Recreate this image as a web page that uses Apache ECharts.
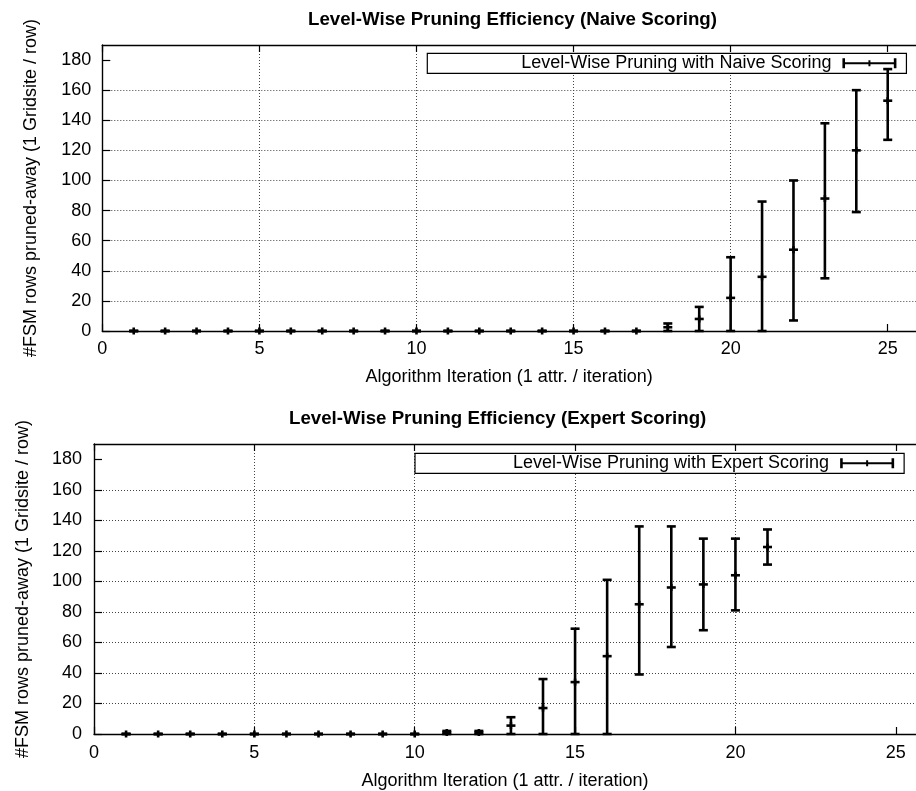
<!DOCTYPE html>
<html>
<head>
<meta charset="utf-8">
<script src="https://cdn.jsdelivr.net/npm/echarts@6/dist/echarts.min.js"></script>
<style>
html,body{margin:0;padding:0;background:#fff;}
#chart{width:916px;height:791px;}
</style>
</head>
<body>
<div id="chart"></div>
<script>
// ---- data ----
const naiveIter = [1,2,3,4,5,6,7,8,9,10,11,12,13,14,15,16,17,18,19,20,21,22,23,24,25];
const naiveMean = [0,0,0,0,0,0,0,0,0,0,0,0,0,0,0,0,0,2.5,8,22,36,54,88,120,153];
const naiveLow  = [0,0,0,0,0,0,0,0,0,0,0,0,0,0,0,0,0,0,0,0,0,7,35,79,127];
const naiveHigh = [0,0,0,0,0,0,0,0,0,0,0,0,0,0,0,0,0,5,16,49,86,100,138,160,174];

const expertIter = [1,2,3,4,5,6,7,8,9,10,11,12,13,14,15,16,17,18,19,20,21];
const expertMean = [0,0,0,0,0,0,0,0,0,0,1,1,5.5,17,34,51,85,96,98,104,122.5];
const expertLow  = [0,0,0,0,0,0,0,0,0,0,0,0,0,0,0,0,39,57,68,81,111];
const expertHigh = [0,0,0,0,0,0,0,0,0,0,2,2,11,36,69,101,136,136,128,128,134];

const xTicks = [0,5,10,15,20,25];
const yTicks = [0,20,40,60,80,100,120,140,160,180];

const titles = ['Level-Wise Pruning Efficiency (Naive Scoring)', 'Level-Wise Pruning Efficiency (Expert Scoring)'];
const seriesNames = ['Level-Wise Pruning with Naive Scoring', 'Level-Wise Pruning with Expert Scoring'];
const xName = 'Algorithm Iteration (1 attr. / iteration)';
const yName = '#FSM rows pruned-away (1 Gridsite / row)';

// ---- build ----
const FONT = 'Liberation Sans';
function rows(it, m, lo, hi){ return it.map((x,i)=>[x, m[i], lo[i], hi[i]]); }

function renderItem(params, api){
  const x = api.value(0), m = api.value(1), lo = api.value(2), hi = api.value(3);
  const pm = api.coord([x, m]), pl = api.coord([x, lo]), ph = api.coord([x, hi]);
  const cw = 4.5;
  const st = {stroke:'#000', lineWidth:2.6, fill:null};
  const seg = (x1,y1,x2,y2)=>({type:'line', shape:{x1,y1,x2,y2}, style:st});
  return {type:'group', children:[
    seg(pl[0], pl[1], ph[0], ph[1]),
    seg(pl[0]-cw, pl[1], pl[0]+cw, pl[1]),
    seg(ph[0]-cw, ph[1], ph[0]+cw, ph[1]),
    seg(pm[0]-cw, pm[1], pm[0]+cw, pm[1]),
    seg(pm[0], pm[1]-3.5, pm[0], pm[1]+3.5)
  ]};
}

const grids = [
  {left:102.3, top:45, right:0, bottom:460},
  {left:94, top:444, right:0, bottom:56.3}
];
const xMax = [25.9, 25.63];

const axisLbl = {color:'#000', fontFamily:FONT, fontSize:18};
const frameLine = {show:true, onZero:false, lineStyle:{color:'#000', width:1.4}};
const gridLine = {show:true, showMaxLine:false, lineStyle:{color:'#444', width:1, type:[1,2]}};
function xAxisMain(gi, margin, gap){
  return {type:'value', gridIndex:gi, min:0, max:xMax[gi], interval:5, position:'bottom',
    name:xName, nameLocation:'middle', nameGap:gap,
    nameTextStyle:{color:'#000', fontFamily:FONT, fontSize:18},
    axisLine:frameLine,
    axisTick:{show:true, inside:true, length:7, customValues:xTicks, lineStyle:{color:'#000', width:1.2}},
    axisLabel:Object.assign({margin:margin, customValues:xTicks, formatter:v=> String(v)}, axisLbl),
    splitLine:gridLine
  };
}
function xAxisTop(gi){
  return {type:'value', gridIndex:gi, min:0, max:xMax[gi], interval:5, position:'top',
    axisLine:frameLine,
    axisTick:{show:true, inside:true, length:7, customValues:xTicks, lineStyle:{color:'#000', width:1.2}},
    axisLabel:{show:false}, splitLine:{show:false}};
}
function yAxisMain(gi, margin, gap){
  return {type:'value', gridIndex:gi, min:0, max:190, interval:20,
    name:yName, nameLocation:'middle', nameGap:gap, nameRotate:90,
    nameTextStyle:{color:'#000', fontFamily:FONT, fontSize:18},
    axisLine:frameLine,
    axisTick:{show:true, inside:true, length:8, customValues:yTicks, lineStyle:{color:'#000', width:1.2}},
    axisLabel:Object.assign({margin:margin, customValues:yTicks, formatter:v=> String(v)}, axisLbl),
    splitLine:gridLine
  };
}

const errIcon = 'path://M0,4L54,4L54,6L0,6Z M0,0L2.6,0L2.6,10L0,10Z M51.4,0L54,0L54,10L51.4,10Z M26,2L28,2L28,8L26,8Z';

const option = {
  animation:false,
  backgroundColor:'#fff',
  title:[
    {text:titles[0], left:308, top:10, padding:0, textStyle:{color:'#000', fontFamily:FONT, fontSize:18.7, fontWeight:'bold'}},
    {text:titles[1], left:289, top:409, padding:0, textStyle:{color:'#000', fontFamily:FONT, fontSize:18.7, fontWeight:'bold'}}
  ],
  legend:[
    {data:[{name:seriesNames[0], icon:errIcon}], left:427.3, top:53.3, orient:'horizontal', align:'right',
     itemWidth:56, itemHeight:10, padding:[1,10,1,94], borderColor:'#000', borderWidth:1.2, backgroundColor:'#fff',
     textStyle:{color:'#000', fontFamily:FONT, fontSize:18, lineHeight:17, padding:[0,5,0,0]}},
    {data:[{name:seriesNames[1], icon:errIcon}], left:415, top:453.3, orient:'horizontal', align:'right',
     itemWidth:56, itemHeight:10, padding:[1,10,1,98], borderColor:'#000', borderWidth:1.2, backgroundColor:'#fff',
     textStyle:{color:'#000', fontFamily:FONT, fontSize:18, lineHeight:17, padding:[0,5,0,0]}}
  ],
  grid: grids.map(g=>Object.assign({show:false, containLabel:false}, g)),
  xAxis:[xAxisMain(0, 9, 37), xAxisTop(0), xAxisMain(1, 10, 38), xAxisTop(1)],
  yAxis:[yAxisMain(0, 11, 62), yAxisMain(1, 12, 62)],
  series:[
    {type:'custom', name:seriesNames[0], xAxisIndex:0, yAxisIndex:0, color:'#000', clip:false,
     renderItem:renderItem, encode:{x:0, y:[1,2,3]}, data:rows(naiveIter, naiveMean, naiveLow, naiveHigh), z:5},
    {type:'custom', name:seriesNames[1], xAxisIndex:2, yAxisIndex:1, color:'#000', clip:false,
     renderItem:renderItem, encode:{x:0, y:[1,2,3]}, data:rows(expertIter, expertMean, expertLow, expertHigh), z:5}
  ]
};

const chart = echarts.init(document.getElementById('chart'), null, {renderer:'canvas'});
chart.setOption(option);
</script>
</body>
</html>
